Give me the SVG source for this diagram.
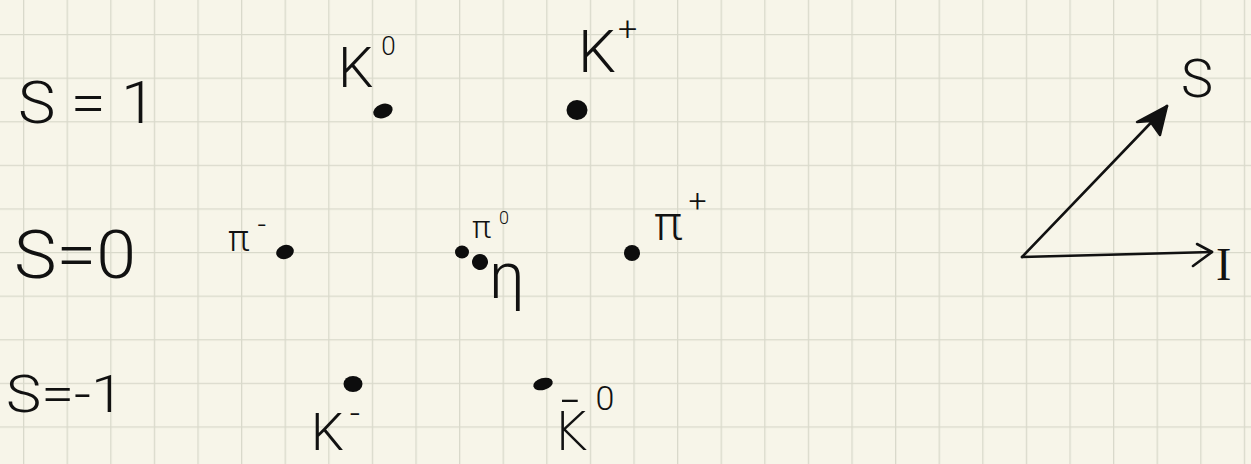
<svg xmlns="http://www.w3.org/2000/svg" width="1251" height="464" viewBox="0 0 1251 464">
<defs>
<pattern id="grid" patternUnits="userSpaceOnUse" x="23" y="34" width="43.6" height="43.6">
<path d="M0 0.5H43.6M0.5 0V43.6" fill="none" stroke="#d9d9cb" stroke-width="1.6"/>
</pattern>
<style>
.t{font-family:Roboto,"DejaVu Sans","Liberation Sans",sans-serif;font-weight:300;fill:#111;}
.serif{font-family:"Liberation Serif","DejaVu Serif",serif;font-weight:normal;}
.dot{fill:#0d0d0d;}
.ax{stroke:#111;stroke-width:2.6;fill:none;stroke-linecap:round;stroke-linejoin:round;}
</style>
</defs>
<rect width="1251" height="464" fill="#f7f5e9"/>
<rect width="1251" height="464" fill="url(#grid)"/>

<g id="row-s1"><text class="t" x="18" y="123" font-size="60" textLength="138" lengthAdjust="spacingAndGlyphs">S = 1</text></g>
<g id="row-s0"><text class="t" x="14" y="278" font-size="66" textLength="122" lengthAdjust="spacingAndGlyphs">S=0</text></g>
<g id="row-sm1"><text class="t" x="6" y="412" font-size="52" textLength="118" lengthAdjust="spacingAndGlyphs">S=-1</text></g>

<g id="K0">
<ellipse class="dot" cx="383" cy="111" rx="10" ry="7" transform="rotate(-20 383 111)"/>
<text class="t" x="338" y="87" font-size="56">K<tspan font-size="26" dx="8" dy="-32">0</tspan></text>
</g>
<g id="Kplus">
<ellipse class="dot" cx="577" cy="110" rx="10.5" ry="10"/>
<text class="t" x="578" y="72" font-size="60">K<tspan font-size="34" dx="2" dy="-32">+</tspan></text>
</g>
<g id="piminus">
<ellipse class="dot" cx="285" cy="252" rx="9" ry="7" transform="rotate(-20 285 252)"/>
<text class="t" x="228" y="251" font-size="36">π<tspan font-size="30" dx="8" dy="-16">-</tspan></text>
</g>
<g id="pi0">
<ellipse class="dot" cx="462" cy="252" rx="7" ry="6.5"/>
<text class="t" x="472" y="238" font-size="32">π<tspan font-size="18" dx="8" dy="-14">0</tspan></text>
</g>
<g id="eta">
<ellipse class="dot" cx="480" cy="262" rx="8" ry="8" transform="rotate(-30 480 262)"/>
<text class="t" x="489" y="298" font-size="64">η</text>
</g>
<g id="piplus">
<ellipse class="dot" cx="632" cy="253" rx="8" ry="8"/>
<text class="t" x="654" y="240" font-size="48">π<tspan font-size="32" dx="6" dy="-28">+</tspan></text>
</g>
<g id="Kminus">
<ellipse class="dot" cx="353" cy="384" rx="9.5" ry="8"/>
<text class="t" x="311" y="450" font-size="52">K<tspan font-size="36" dx="6" dy="-24">-</tspan></text>
</g>
<g id="K0bar">
<ellipse class="dot" cx="543" cy="384" rx="10" ry="6" transform="rotate(-15 543 384)"/>
<text class="t" x="552" y="450" font-size="54">K̄<tspan font-size="34" dx="8" dy="-40">0</tspan></text>
</g>

<g id="axes-labels">
<text class="t" x="1181" y="97" font-size="54">S</text>
<text class="t serif" x="1216" y="280" font-size="46">I</text>
</g>

<g id="connectors">
<path class="ax" d="M1022 257L1212 252"/>
<path class="ax" d="M1197 244L1212 252L1193 266"/>
<path class="ax" d="M1022 257L1167 106"/>
<path d="M1167 106L1137 122L1150 121L1160 135Z" fill="#111" stroke="#111" stroke-width="2.5" stroke-linejoin="round"/>
</g>
</svg>
